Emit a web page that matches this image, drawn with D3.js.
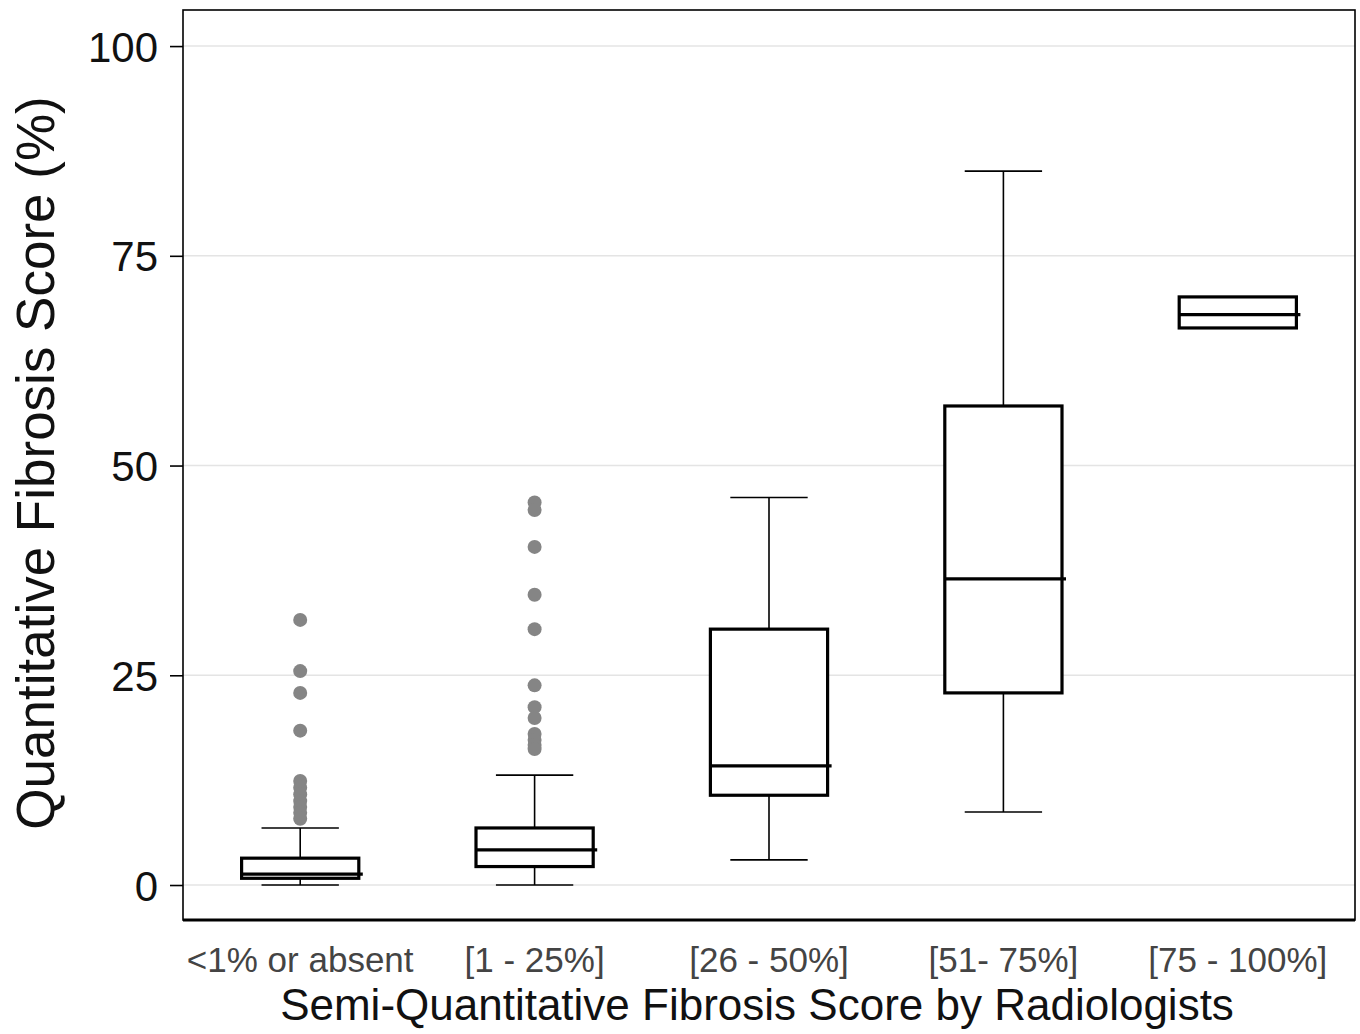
<!DOCTYPE html>
<html>
<head>
<meta charset="utf-8">
<script src="https://cdn.jsdelivr.net/npm/d3@7"></script>
<style>
  body { margin: 0; background: #fff; }
  text { font-family: "Liberation Sans", Arial, sans-serif; }
</style>
</head>
<body>
<div id="chart"></div>
<script>
// data
var categories = ["<1% or absent", "[1 - 25%]", "[26 - 50%]", "[51- 75%]", "[75 - 100%]"];
var whiskerLow  = [0,   0,   3.0,  8.7,  null];
var q1          = [0.8, 2.2, 10.7, 22.9, 66.4];
var median      = [1.3, 4.2, 14.2, 36.5, 68.0];
var q3          = [3.2, 6.8, 30.5, 57.1, 70.1];
var whiskerHigh = [6.8, 13.1, 46.2, 85.1, null];
var outliers = [
    [31.6, 25.5, 22.9, 18.4, 12.4, 11.6, 10.8, 10.0, 9.3, 8.6, 7.9],
    [45.6, 44.7, 40.3, 34.6, 30.5, 23.8, 21.2, 19.9, 18.0, 17.3, 16.7, 16.2],
    [],
    [],
    []
];
var yTicks = [0, 25, 50, 75, 100];

var width = 1360, height = 1034;
var plotLeft = 183, plotRight = 1355, plotTop = 10, plotBottom = 920;

var svg = d3.select("#chart").append("svg")
    .attr("width", width)
    .attr("height", height);

var x = d3.scaleBand()
    .domain(categories)
    .range([plotLeft, plotRight])
    .padding(0);

var y = d3.scaleLinear()
    .domain([-4.17, 104.3])
    .range([plotBottom, plotTop]);

var bw = x.bandwidth();
var boxW = bw * 0.5;
var capW = bw * 0.33;

/* grid lines */
svg.append("g")
    .selectAll("line")
    .data(yTicks).enter()
    .append("line")
    .attr("x1", plotLeft).attr("x2", plotRight)
    .attr("y1", d => y(d)).attr("y2", d => y(d))
    .attr("stroke", "#e4e4e4")
    .attr("stroke-width", 1.5);

/* boxes */
var groups = categories.map(function(c, i) {
    return {cat: c, lo: whiskerLow[i], q1: q1[i], med: median[i], q3: q3[i], hi: whiskerHigh[i], out: outliers[i]};
});

var g = svg.append("g").selectAll("g")
    .data(groups).enter()
    .append("g")
    .attr("transform", d => `translate(${x(d.cat) + bw / 2},0)`);

// whiskers
g.filter(d => d.hi != null).each(function(d) {
    var s = d3.select(this);
    s.append("line").attr("x1", 0).attr("x2", 0)
        .attr("y1", y(d.q3)).attr("y2", y(d.hi))
        .attr("stroke", "#000").attr("stroke-width", 1.6);
    s.append("line").attr("x1", 0).attr("x2", 0)
        .attr("y1", y(d.q1)).attr("y2", y(d.lo))
        .attr("stroke", "#000").attr("stroke-width", 1.6);
    s.append("line").attr("x1", -capW / 2).attr("x2", capW / 2)
        .attr("y1", y(d.hi)).attr("y2", y(d.hi))
        .attr("stroke", "#000").attr("stroke-width", 1.6);
    s.append("line").attr("x1", -capW / 2).attr("x2", capW / 2)
        .attr("y1", y(d.lo)).attr("y2", y(d.lo))
        .attr("stroke", "#000").attr("stroke-width", 1.6);
});

g.append("rect")
    .attr("x", -boxW / 2)
    .attr("width", boxW)
    .attr("y", d => y(d.q3))
    .attr("height", d => y(d.q1) - y(d.q3))
    .attr("fill", "#fff")
    .attr("stroke", "#000")
    .attr("stroke-width", 3.2);

g.append("line")
    .attr("x1", -boxW / 2)
    .attr("x2", boxW / 2 + 4)
    .attr("y1", d => y(d.med))
    .attr("y2", d => y(d.med))
    .attr("stroke", "#000")
    .attr("stroke-width", 3.2);

// outliers
g.selectAll("circle")
    .data(d => d.out).enter()
    .append("circle")
    .attr("cx", 0)
    .attr("cy", d => y(d))
    .attr("r", 7)
    .attr("fill", "#858585");

/* frame */
svg.append("rect")
    .attr("x", plotLeft).attr("y", plotTop)
    .attr("width", plotRight - plotLeft).attr("height", plotBottom - plotTop)
    .attr("fill", "none")
    .attr("stroke", "#000")
    .attr("stroke-width", 1.6);
svg.append("line")
    .attr("x1", plotLeft).attr("x2", plotRight)
    .attr("y1", plotBottom).attr("y2", plotBottom)
    .attr("stroke", "#000")
    .attr("stroke-width", 3);

/* axes */
var yAxis = d3.axisLeft(y).tickValues(yTicks).tickSize(13).tickPadding(12);
var ya = svg.append("g")
    .attr("transform", `translate(${plotLeft},0)`)
    .call(yAxis);
ya.select(".domain").remove();
ya.selectAll("line").attr("stroke", "#000").attr("stroke-width", 1.6);
ya.selectAll("text")
    .attr("font-size", 42)
    .attr("fill", "#111")
    .attr("dy", "0.36em")
    .style("font-family", "Liberation Sans, Arial, sans-serif");

var xAxis = d3.axisBottom(x).tickSize(0).tickPadding(0);
var xa = svg.append("g")
    .attr("transform", `translate(0,${plotBottom})`)
    .call(xAxis);
xa.select(".domain").remove();
xa.selectAll("text")
    .attr("y", 52)
    .attr("dy", 0)
    .attr("font-size", 35)
    .attr("fill", "#444")
    .style("font-family", "Liberation Sans, Arial, sans-serif");

svg.append("text")
    .attr("x", 757)
    .attr("y", 1020)
    .attr("text-anchor", "middle")
    .attr("font-size", 44)
    .attr("fill", "#111")
    .text("Semi-Quantitative Fibrosis Score by Radiologists");

svg.append("text")
    .attr("transform", "translate(54,463) rotate(-90)")
    .attr("text-anchor", "middle")
    .attr("font-size", 53)
    .attr("fill", "#111")
    .text("Quantitative Fibrosis Score (%)");
</script>
</body>
</html>
